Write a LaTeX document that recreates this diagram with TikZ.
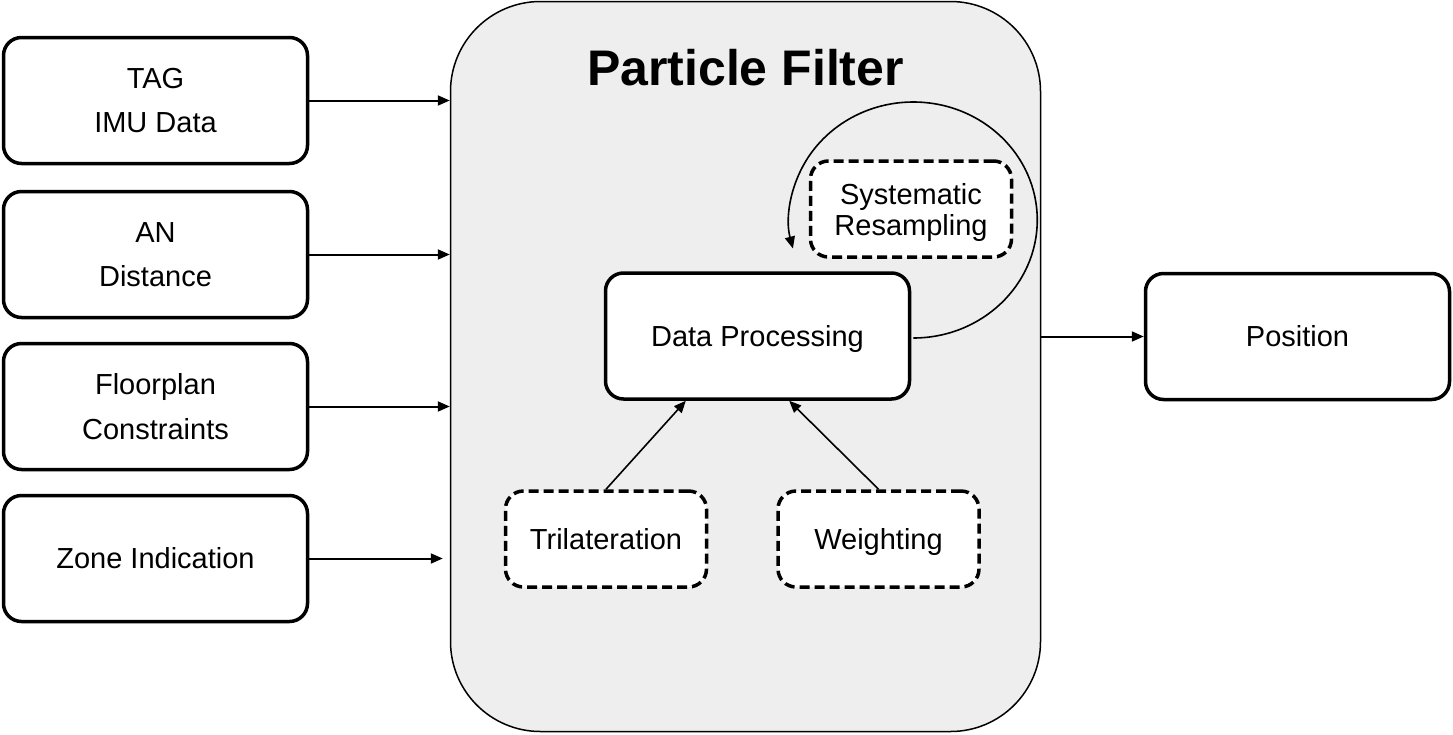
\documentclass[tikz,border=0pt]{standalone}
\usepackage{fontspec}
\setmainfont{Liberation Sans}
\usetikzlibrary{arrows.meta,calc}
\definecolor{pfgray}{HTML}{EEEEEE}
\begin{document}
\begin{tikzpicture}[x=1pt,y=-1pt,
  inbox/.style={draw,line width=3.5pt,rounded corners=18pt,fill=white,minimum width=304pt,minimum height=126pt,align=center,inner sep=0pt,font=\fontsize{29}{44.5}\selectfont},
  oneline/.style={text height=20.8pt,text depth=0pt},
  dashbox/.style={draw,line width=3.5pt,rounded corners=18pt,fill=white,dash pattern=on 10pt off 5pt,minimum width=201pt,minimum height=96pt,align=center,inner sep=0pt,font=\fontsize{29}{31}\selectfont},
  arr/.style={line width=2pt,-{Triangle[length=12pt,width=10pt]}},
  thinarr/.style={line width=1.6pt,-{Triangle[length=12pt,width=10pt]}}
]
\useasboundingbox (0,0) rectangle (1453,734);
% particle filter container
\node[draw,line width=1.5pt,fill=pfgray,rounded corners=90pt,minimum width=590pt,minimum height=730pt,inner sep=0pt] (pf) at (745.5,366.5) {};
\node[font=\bfseries\fontsize{50}{60}\selectfont] (title) at (745.5,68) {Particle Filter};
% inputs
\node[inbox] (b1) at (155.5,100.5) {TAG\\IMU Data};
\node[inbox] (b2) at (155.5,254.5) {AN\\Distance};
\node[inbox] (b3) at (155.5,406.5) {Floorplan\\Constraints};
\node[inbox,oneline] (b4) at (155.5,558.5) {Zone Indication};
% inner nodes
\node[inbox,oneline] (dp) at (757.5,336) {Data Processing};
\node[dashbox,text depth=0pt] (sr) at (911,209) {Systematic\\Resampling};
\node[dashbox,oneline] (tri) at (606,539) {Trilateration};
\node[dashbox,oneline] (wt) at (878.5,539) {Weighting};
% output
\node[inbox,oneline] (pos) at (1297.5,336.5) {Position};
% input arrows
\draw[arr] (b1.east) -- (b1.east -| pf.west);
\draw[arr] (b2.east) -- (b2.east -| pf.west);
\draw[arr] (b3.east) -- (b3.east -| pf.west);
\draw[arr,shorten >=7pt] (b4.east) -- (b4.east -| pf.west);
% output arrow
\draw[arr] (pf.east |- pos.west) -- (pos.west);
% inner arrows
\draw[thinarr] (tri.north) -- ($(dp.south west)!0.267!(dp.south east)$);
\draw[thinarr] (wt.north) -- ($(dp.south west)!0.603!(dp.south east)$);
% resampling loop
\coordinate (loopstart) at ($(dp.east)+(2,2)$);
\draw[thinarr] (loopstart) arc[start angle=90,end angle=-194,x radius=124,y radius=118];
\end{tikzpicture}
\end{document}
